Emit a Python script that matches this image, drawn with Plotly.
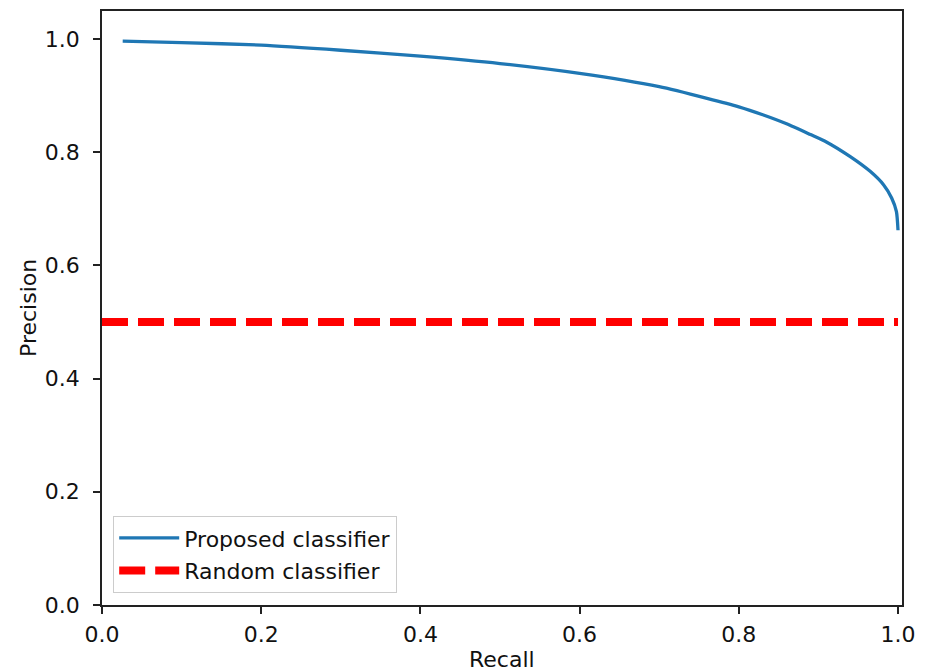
import plotly.graph_objects as go

# Proposed classifier: precision-recall curve
recall = [0.026, 0.10, 0.20, 0.30, 0.40, 0.50, 0.60, 0.70, 0.76, 0.80,
          0.83, 0.86, 0.89, 0.91, 0.94, 0.965, 0.982, 0.992, 0.998, 1.0]
precision = [0.996, 0.9935, 0.989, 0.980, 0.9695, 0.9565, 0.939, 0.9155, 0.895, 0.880,
             0.866, 0.850, 0.831, 0.818, 0.792, 0.766, 0.742, 0.719, 0.695, 0.662]

# Random classifier baseline
random_x = [0.0, 1.0]
random_y = [0.5, 0.5]

tick_vals = [0.0, 0.2, 0.4, 0.6, 0.8, 1.0]
tick_text = ["0.0", "0.2", "0.4", "0.6", "0.8", "1.0"]

FONT = "DejaVu Sans"
FS = 22

fig = go.Figure()
fig.add_trace(go.Scatter(
    x=recall, y=precision, mode="lines", name="Proposed classifier",
    line=dict(color="#1f77b4", width=3.3, shape="spline", smoothing=0.6),
    legendgroup="a",
))
fig.add_trace(go.Scatter(
    x=random_x, y=random_y, mode="lines", name="Random classifier",
    line=dict(color="#ff0000", width=8, dash="26px,10px"),
    legendgroup="b",
))

axis_common = dict(
    showline=True, linecolor="#222222", linewidth=1.6, mirror=True,
    showgrid=False, zeroline=False,
    ticks="outside", ticklen=7, tickwidth=1.5, tickcolor="#222222",
    tickvals=tick_vals, ticktext=tick_text,
    tickfont=dict(family=FONT, size=FS, color="#111111"),
)

# the page body has an 8px margin, so the figure is sized to fit the window
fig.update_layout(
    width=918, height=664,
    margin=dict(l=94, r=24, t=1, b=67, pad=0),
    paper_bgcolor="white", plot_bgcolor="white",
    font=dict(family=FONT, size=FS, color="#111111"),
    xaxis=dict(range=[0, 1.005], ticklabelstandoff=2, **axis_common),
    yaxis=dict(range=[0, 1.0493], ticklabelstandoff=9, **axis_common),
    legend=dict(
        x=0.014, y=0.02, xanchor="left", yanchor="bottom",
        bgcolor="white", bordercolor="#cccccc", borderwidth=1,
        font=dict(family=FONT, size=FS, color="#111111"),
        itemwidth=60, tracegroupgap=1,
    ),
    showlegend=True,
    annotations=[
        dict(text="Recall", xref="paper", yref="paper", x=0.5, y=0,
             xanchor="center", yanchor="middle", yshift=-54, showarrow=False,
             font=dict(family=FONT, size=FS, color="#111111")),
        dict(text="Precision", xref="paper", yref="paper", x=0, y=0.5,
             xanchor="center", yanchor="middle", xshift=-74, textangle=-90,
             showarrow=False,
             font=dict(family=FONT, size=FS, color="#111111")),
    ],
)

fig.write_html("out.html")
